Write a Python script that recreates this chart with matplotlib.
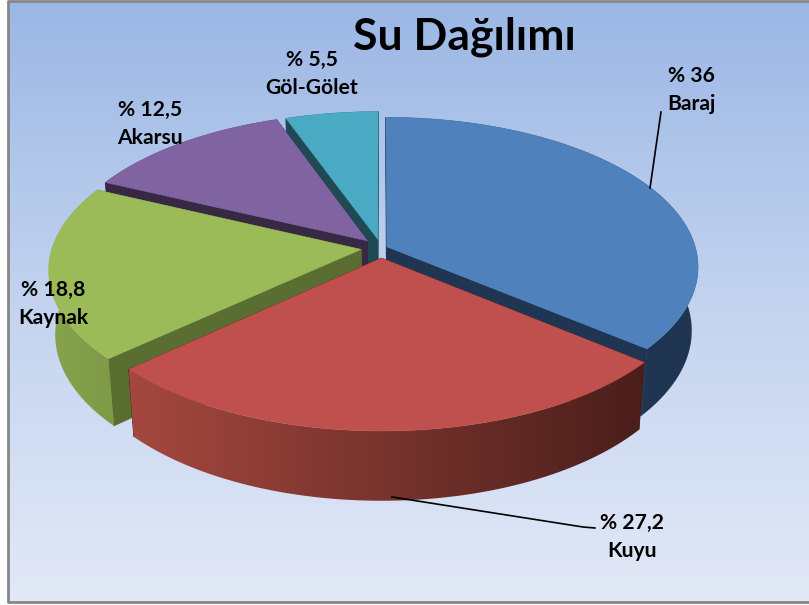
import numpy as np
import matplotlib
matplotlib.use('Agg')
import matplotlib.pyplot as plt
from matplotlib.colors import LinearSegmentedColormap
from matplotlib.patches import Polygon

# Data
names = ['Baraj', 'Kuyu', 'Kaynak', 'Akarsu', 'Göl-Gölet']
values = [36, 27.2, 18.8, 12.5, 5.5]
value_labels = ['% 36', '% 27,2', '% 18,8', '% 12,5', '% 5,5']

# Slice styles
top_colors = ['#4f81bd', '#c0504d', '#9bbb59', '#8064a2', '#4aa9c3']
cut_colors = ['#1f3552', '#4b1e1b', '#5b6e31', '#372844', '#1f4a54']
wall_left = ['#1f3552', '#a5483f', '#87a34c', '#372844', '#1f4a54']
wall_right = ['#1f3552', '#4a1e1b', '#7f9a47', '#372844', '#1f4a54']
explode = [0.02, 0.068, 0.065, 0.065, 0.06]
draw_order = [4, 3, 0, 2, 1]

# Pie geometry in pixels
CX, CY = 381, 248
RX, RY = 309, 147
PERSP = 0.133
DEPTH = 63
SHRINK = 0.98


def project(u, v, bottom=False):
    s = 1 / (1 + PERSP * v)
    x = RX * u * s
    y = RY * v * s
    if bottom:
        return CX + x * SHRINK, CY - y * SHRINK + DEPTH * s
    return CX + x, CY - y


fig = plt.figure(figsize=(8.09, 6.05), dpi=100)
ax = fig.add_axes([0, 0, 1, 1])

# Background gradient and frame
bg = LinearSegmentedColormap.from_list('bg', ['#9bb7e5', '#c3d3ef', '#e2e9f7'])
ax.imshow(np.linspace(0, 1, 256).reshape(-1, 1), cmap=bg, aspect='auto',
          extent=(8, 809, 602, 1), zorder=0)
ax.plot([809, 8, 8, 809], [1, 1, 602, 602], color='#868686', lw=2, zorder=1)

# Slices, angles run clockwise from the top
edges = np.cumsum([0] + values) / np.sum(values) * 2 * np.pi
for n, i in enumerate(draw_order):
    z = 2 + n
    a = np.linspace(edges[i], edges[i + 1], 160)
    mid = (edges[i] + edges[i + 1]) / 2
    ox, oy = explode[i] * np.sin(mid), explode[i] * np.cos(mid)
    u = ox + np.sin(a)
    v = oy + np.cos(a)

    tx, ty = project(u, v)
    bx, by = project(u, v, bottom=True)
    ax_, ay_ = project(ox, oy)
    bax, bay = project(ox, oy, bottom=True)

    # cut faces
    for j in (0, -1):
        ax.fill([ax_, tx[j], bx[j], bax], [ay_, ty[j], by[j], bay],
                color=cut_colors[i], lw=0.5, zorder=z)

    # outer wall, shaded left to right and clipped to the arc band
    wall = Polygon(np.c_[np.r_[tx, bx[::-1]], np.r_[ty, by[::-1]]],
                   closed=True, transform=ax.transData, fc='none', ec='none')
    ax.add_patch(wall)
    cm = LinearSegmentedColormap.from_list('w%d' % i, [wall_left[i], wall_right[i]])
    x0, x1 = min(tx.min(), bx.min()), max(tx.max(), bx.max())
    im = ax.imshow(np.linspace(0, 1, 256).reshape(1, -1), cmap=cm, aspect='auto',
                   extent=(x0, x1, by.max() + 2, ty.min() - 2), zorder=z)
    im.set_clip_path(wall)

    # top face
    ax.fill(np.r_[ax_, tx], np.r_[ay_, ty], color=top_colors[i], lw=0.3, zorder=z)

ax.set_xlim(0, 809)
ax.set_ylim(605, 0)
ax.axis('off')

# Labels
font = {'family': 'Lato', 'weight': 'bold', 'color': 'black', 'ha': 'center', 'va': 'center'}
ax.text(464, 37, 'Su Dağılımı', fontsize=32, zorder=20, **font)

label_pos = [(691, 90), (632, 537), (53, 304), (150, 124), (312, 74)]
for i in range(len(names)):
    x, y = label_pos[i]
    ax.text(x, y - 14, value_labels[i], fontsize=15.2, zorder=20, **font)
    ax.text(x, y + 14, names[i], fontsize=15.2, zorder=20, **font)

# Leader lines
ax.plot([650, 661], [188, 112], color='black', lw=1.2, zorder=19)
ax.plot([392, 583, 595], [497, 527, 528], color='black', lw=1.2, zorder=19)

fig.savefig('out.png', dpi=100)
